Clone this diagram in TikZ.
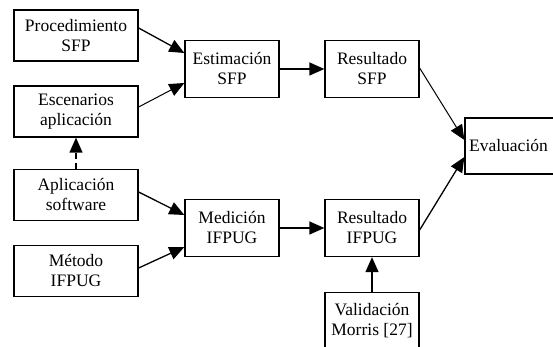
\documentclass[tikz,border=0pt]{standalone}
\usepackage{fontspec}
\setmainfont{Liberation Serif}
\usetikzlibrary{arrows.meta}

\begin{document}
\begin{tikzpicture}[x=1pt, y=1pt,
    box/.style={draw, line width=1.3pt, align=center, inner sep=0pt,
      font=\fontsize{17.5}{20}\selectfont},
    wide/.style={box, minimum width=124pt, minimum height=51pt},
    mid/.style={box, minimum width=94pt, minimum height=57pt},
    flow/.style={line width=1.3pt, -{Triangle[length=15pt, width=13pt]}}]
  \clip (0,0) rectangle (553,347);
  % inputs on the left
  \node[wide] (proc) at (76,311.5) {Procedimiento\\SFP};
  \node[wide] (esc)  at (76,235.5) {Escenarios\\aplicación};
  \node[wide] (apl)  at (76,152)   {Aplicación\\software};
  \node[wide] (met)  at (76,76)    {Método\\IFPUG};
  % middle and right
  \node[mid] (est)  at (232,278) {Estimación\\SFP};
  \node[mid] (med)  at (232,119) {Medición\\IFPUG};
  \node[mid] (rsfp) at (372,278) {Resultado\\SFP};
  \node[mid] (rifp) at (372,119) {Resultado\\IFPUG};
  \node[mid, minimum width=96pt, minimum height=56pt] (eval) at (513,201) {Evaluación\hspace*{9pt}};
  \node[mid] (val)  at (372,26) {Validación\\Morris [27]};

  \draw[flow] ([yshift=7.5pt]proc.east) -- ([yshift=16pt]est.west);
  \draw[flow, line width=1pt] ([yshift=4.5pt]esc.east) -- ([yshift=-14pt]est.west);
  \draw[flow, dashed, dash pattern=on 6pt off 4pt] (apl.north) -- (esc.south);
  \draw[flow] ([yshift=3pt]apl.east) -- ([yshift=13pt]med.west);
  \draw[flow] ([yshift=3pt]met.east) -- ([yshift=-19pt]med.west);
  \draw[flow] (est) -- (rsfp);
  \draw[flow] (med) -- (rifp);
  \draw[flow, line width=1pt] ([yshift=1pt]rsfp.east) -- ([yshift=6pt]eval.west);
  \draw[flow] ([yshift=-2pt]rifp.east) -- ([yshift=-11pt]eval.west);
  \draw[flow] (val) -- (rifp);
\end{tikzpicture}
\end{document}
